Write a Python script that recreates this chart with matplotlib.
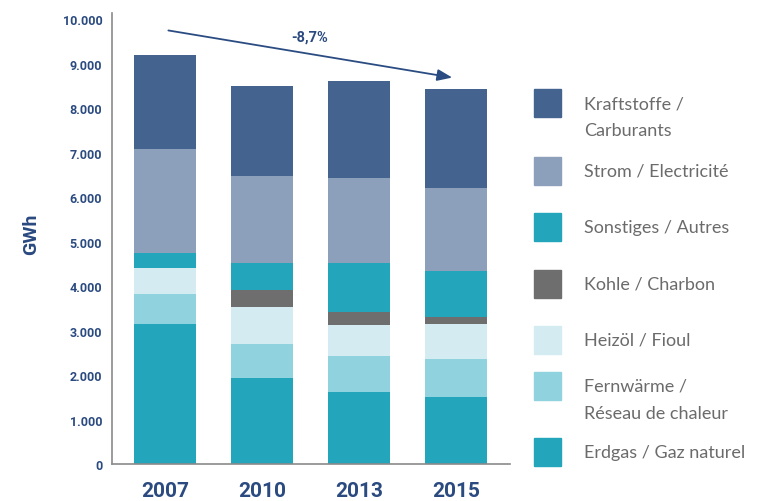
import matplotlib.pyplot as plt
from matplotlib.patches import Rectangle

# Daten (GWh), von unten nach oben gestapelt
years = ["2007", "2010", "2013", "2015"]
erdgas = [3150, 1930, 1620, 1510]
fernwaerme = [670, 765, 810, 855]
heizoel = [585, 830, 700, 785]
kohle = [0, 380, 290, 160]
sonstiges = [340, 610, 1100, 1025]
strom = [2340, 1950, 1915, 1870]
kraftstoffe = [2100, 2030, 2170, 2225]

series = [
    ("Erdgas / Gaz naturel", erdgas, "#23a6bc"),
    ("Fernwärme /\nRéseau de chaleur", fernwaerme, "#90d2de"),
    ("Heizöl / Fioul", heizoel, "#d4ecf1"),
    ("Kohle / Charbon", kohle, "#6e6e6e"),
    ("Sonstiges / Autres", sonstiges, "#23a6bc"),
    ("Strom / Electricité", strom, "#8c9fbb"),
    ("Kraftstoffe /\nCarburants", kraftstoffe, "#44648f"),
]
change_label = "-8,7%"

navy = "#2a4a80"
W, H = 763, 502

fig = plt.figure(figsize=(W / 100, H / 100), dpi=100)
ax = fig.add_axes([112 / W, 1 - 465 / H, (510 - 112) / W, (465 - 14) / H])

x = list(range(len(years)))
bottom = [0] * len(years)
for name, vals, col in series:
    ax.bar(x, vals, width=0.63, bottom=bottom, color=col, linewidth=0)
    bottom = [b + v for b, v in zip(bottom, vals)]

ax.set_xlim(-0.546, 3.557)
ax.set_ylim(0, 10135)
ax.set_yticks(range(0, 10001, 1000))
ax.set_yticklabels(["0"] + [f"{v // 1000}.000" for v in range(1000, 10001, 1000)])
ax.set_xticks(x)
ax.set_xticklabels(years)

for s in ["top", "right"]:
    ax.spines[s].set_visible(False)
for s in ["left", "bottom"]:
    ax.spines[s].set_color("#8a8a8a")
    ax.spines[s].set_linewidth(1.2)

ax.tick_params(axis="both", length=0)
ax.tick_params(axis="y", pad=7, labelsize=9, labelcolor=navy)
ax.tick_params(axis="x", pad=12, labelsize=15, labelcolor=navy)
for lab in ax.get_yticklabels() + ax.get_xticklabels():
    lab.set_fontweight("bold")
    lab.set_family("Roboto")

fig.text(31 / W, 1 - 234 / H, "GWh", rotation=90, ha="center", va="center",
         fontsize=14, fontweight="bold", color=navy, family="Roboto")

# Trendpfeil
ax.annotate("", xy=(2.99, 8674), xytext=(0.007, 9753),
            arrowprops=dict(arrowstyle="-|>,head_length=0.9,head_width=0.35",
                            color="#2b4c82", lw=1.3),
            annotation_clip=False)
ax.text(1.495, 9596, change_label, ha="center", va="center", fontsize=10.5,
        fontweight="bold", color=navy, family="Roboto")

# Legende (manuell, von oben nach unten)
centers = [104, 172, 228, 285, 341, 387, 453]
for (name, vals, col), cy in zip(reversed(series), centers):
    fig.patches.append(Rectangle((534 / W, 1 - (cy + 14) / H), 27 / W, 28 / H,
                                 transform=fig.transFigure, color=col))
    for k, line in enumerate(name.split("\n")):
        fig.text(584 / W, 1 - (cy + 27 * k) / H, line, ha="left", va="center",
                 fontsize=13, color="#6b6b6b", family="Lato")

fig.savefig("out.png", dpi=100)
